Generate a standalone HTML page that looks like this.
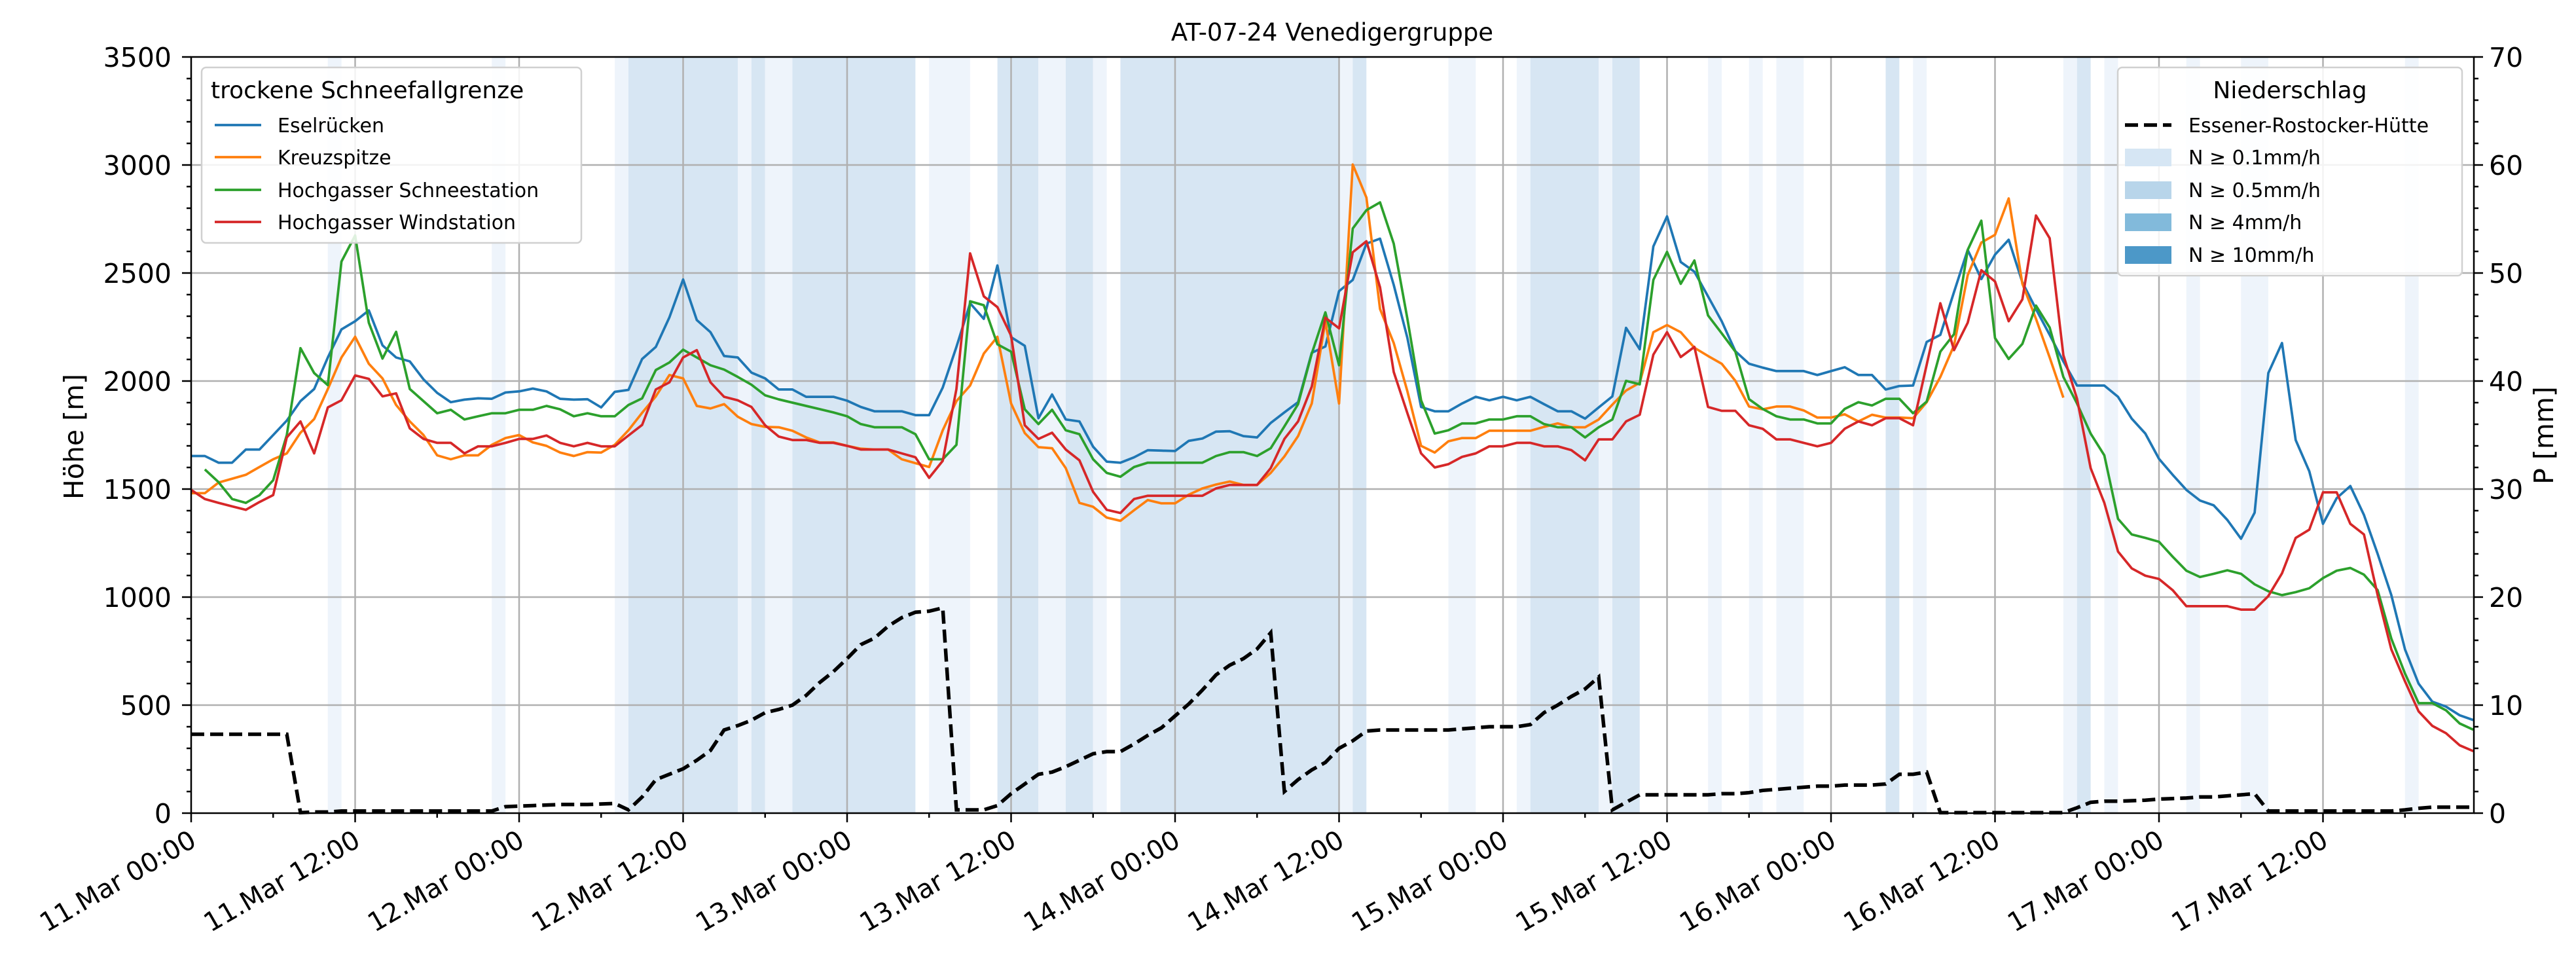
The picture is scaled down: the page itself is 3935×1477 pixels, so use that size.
<!DOCTYPE html>
<html><head><meta charset="utf-8">
<style>
html,body{margin:0;padding:0;background:#fff;}
svg{display:block;font-family:"DejaVu Sans","Liberation Sans",sans-serif;}
</style></head>
<body>
<svg id="chart" width="3935" height="1477" viewBox="0 0 3935 1477" xmlns="http://www.w3.org/2000/svg">
<rect x="0" y="0" width="3935" height="1477" fill="#fff"/>
<g id="bands"></g>
<g id="grid"></g>
<g id="series"></g>
<g id="axes"></g>
<g id="legends"></g>
</svg>
<script>
// ---- data (hourly, hour 0 = 11.Mar 00:00) ----
const eselruecken = [1653,1653,1622,1622,1683,1683,1750,1817,1907,1963,
2109,2239,2277,2327,2165,2109,2091,2008,1945,1902,
1914,1920,1918,1947,1952,1965,1952,1918,1914,1916,
1878,1950,1959,2102,2158,2295,2470,2282,2226,2116,
2109,2039,2012,1961,1961,1927,1927,1927,1909,1880,
1860,1860,1860,1842,1842,1970,2158,2360,2288,2535,
2203,2163,1828,1938,1822,1813,1696,1627,1622,1647,
1680,1678,1676,1723,1734,1766,1768,1745,1739,1806,
1855,1902,2131,2160,2416,2468,2636,2659,2445,2199,
1880,1860,1860,1896,1927,1911,1927,1911,1927,1893,
1860,1860,1826,1878,1929,2246,2147,2623,2762,2551,
2506,2392,2277,2138,2080,2062,2046,2046,2046,2028,
2046,2064,2028,2028,1961,1977,1979,2181,2214,2412,
2607,2472,2585,2654,2457,2333,2214,2091,1979,1979,
1979,1927,1826,1757,1640,1566,1496,1447,1425,1357,
1270,1391,2037,2176,1727,1582,1339,1458,1514,1380,
1200,1009,758,599,516,493,453,431];
const kreuzspitze = [1481,1481,1530,1548,1566,1602,1638,1665,1761,1824,
1963,2109,2205,2080,2012,1889,1813,1750,1656,1638,
1656,1656,1705,1736,1750,1716,1700,1669,1653,1671,
1669,1705,1772,1853,1929,2028,2012,1885,1873,1893,
1835,1801,1788,1786,1770,1739,1716,1716,1700,1687,
1683,1683,1638,1620,1602,1772,1907,1979,2127,2205,
1896,1759,1694,1689,1597,1436,1418,1368,1353,1402,
1449,1434,1434,1474,1503,1521,1535,1519,1519,1575,
1651,1745,1896,2277,1896,3002,2849,2333,2176,1952,
1700,1669,1721,1736,1736,1770,1770,1770,1770,1788,
1804,1786,1786,1822,1891,1956,1992,2226,2259,2226,
2154,2116,2080,2001,1882,1869,1882,1882,1864,1831,
1831,1846,1813,1844,1831,1831,1828,1902,2019,2165,
2490,2641,2677,2845,2450,2288,2109,1923];
const schneestation = [null,1591,1532,1454,1436,1472,1541,1750,2152,2037,
1981,2553,2674,2270,2104,2228,1963,1907,1851,1867,
1822,1837,1851,1851,1867,1867,1885,1869,1837,1851,
1837,1837,1889,1920,2051,2086,2145,2109,2073,2053,
2019,1983,1934,1915,1900,1885,1870,1855,1837,1801,
1786,1786,1786,1754,1638,1638,1705,2369,2351,2170,
2136,1869,1801,1867,1772,1754,1638,1575,1557,1602,
1622,1622,1622,1622,1622,1653,1671,1671,1653,1689,
1790,1893,2127,2318,2073,2706,2791,2827,2636,2288,
1911,1757,1772,1804,1804,1822,1822,1837,1837,1801,
1786,1786,1739,1786,1822,2001,1985,2468,2598,2450,
2558,2304,2221,2136,1916,1871,1837,1822,1822,1804,
1804,1871,1902,1887,1918,1918,1851,1905,2136,2217,
2607,2742,2199,2102,2172,2349,2248,2019,1896,1757,
1656,1362,1290,1274,1256,1187,1122,1093,1108,1124,
1108,1059,1027,1009,1023,1041,1088,1122,1135,1104,
1032,808,646,509,509,476,415,386];
const windstation = [1496,1454,1436,1420,1404,1440,1472,1739,1813,1665,
1878,1911,2026,2010,1929,1943,1781,1732,1714,1714,
1665,1698,1698,1714,1732,1732,1748,1714,1698,1714,
1698,1698,1748,1797,1961,1994,2109,2143,1994,1927,
1911,1880,1795,1743,1727,1727,1714,1714,1700,1683,
1683,1683,1665,1647,1552,1631,1963,2591,2392,2342,
2210,1795,1732,1761,1683,1633,1487,1404,1389,1454,
1469,1469,1469,1469,1469,1503,1519,1519,1519,1597,
1732,1813,1974,2293,2244,2596,2647,2434,2042,1851,
1665,1600,1615,1649,1665,1698,1698,1714,1714,1698,
1698,1680,1633,1730,1730,1813,1844,2122,2226,2111,
2158,1880,1862,1862,1795,1779,1730,1730,1714,1698,
1714,1779,1813,1795,1828,1828,1795,2075,2360,2143,
2270,2513,2461,2277,2378,2766,2661,2120,1918,1597,
1436,1211,1133,1099,1084,1032,958,958,958,958,
942,942,1005,1110,1274,1312,1485,1485,1339,1290,
1009,758,610,471,404,370,314,287];
const precip = [7.3,7.3,7.3,7.3,7.3,7.3,7.3,7.3,0.05,0.1,
0.1,0.2,0.2,0.2,0.2,0.2,0.2,0.2,0.2,0.2,
0.2,0.2,0.2,0.6,0.65,0.7,0.75,0.8,0.8,0.8,
0.85,0.9,0.3,1.5,3.1,3.6,4.1,4.9,5.8,7.7,
8.1,8.6,9.3,9.6,10.0,10.9,12.1,13.1,14.3,15.6,
16.2,17.3,18.1,18.6,18.7,19.0,0.3,0.3,0.3,0.7,
1.8,2.7,3.6,3.8,4.3,4.9,5.5,5.7,5.7,6.4,
7.2,7.9,9.0,10.1,11.4,12.8,13.7,14.3,15.2,16.7,
2.0,3.1,4.0,4.7,6.0,6.7,7.6,7.7,7.7,7.7,
7.7,7.7,7.7,7.8,7.9,8.0,8.0,8.0,8.2,9.3,
10.0,10.8,11.5,12.6,0.3,1.0,1.7,1.7,1.7,1.7,
1.7,1.7,1.8,1.8,1.9,2.1,2.2,2.3,2.4,2.5,
2.5,2.6,2.6,2.6,2.7,3.6,3.6,3.8,0.05,0.05,
0.05,0.05,0.05,0.05,0.05,0.05,0.05,0.05,0.5,1.0,
1.1,1.1,1.15,1.2,1.3,1.35,1.4,1.5,1.5,1.6,
1.7,1.8,0.2,0.2,0.2,0.2,0.2,0.2,0.2,0.2,
0.2,0.2,0.3,0.45,0.55,0.55,0.55,0.55];
const bandStart = [10,22,31,32,40,41,42,44,54,59,62,64,66,68,84,85,92,97,98,103,104,111,114,116,124,126,137,138,140,146,150,162];
const bandEnd   = [11,23,32,40,41,42,44,53,57,62,64,66,67,84,85,86,94,98,103,104,106,112,115,118,125,127,138,139,141,147,152,163];
const bandLevel = [1,1,1,2,1,2,1,2,1,2,1,2,1,2,1,2,1,1,2,1,2,1,1,1,2,1,1,2,1,1,1,1];
const leftTicks = [0,500,1000,1500,2000,2500,3000,3500];
const rightTicks = [0,10,20,30,40,50,60,70];
const xTickHours = [0,12,24,36,48,60,72,84,96,108,120,132,144,156];
const xTickLabels = ["11.Mar 00:00","11.Mar 12:00","12.Mar 00:00","12.Mar 12:00","13.Mar 00:00","13.Mar 12:00","14.Mar 00:00","14.Mar 12:00","15.Mar 00:00","15.Mar 12:00","16.Mar 00:00","16.Mar 12:00","17.Mar 00:00","17.Mar 12:00"];

// ---- axes geometry ----
const L=292, R=3779, T=87, B=1242;
const HMAX = (R-L)/(250.5/12);
const X = h => L + h*(R-L)/HMAX;
const YM = v => B - v*(B-T)/3500;
const YP = p => B - p*(B-T)/70;
const NS="http://www.w3.org/2000/svg";
function mk(tag, parent, attrs){const e=document.createElementNS(NS,tag);for(const k in attrs)e.setAttribute(k,attrs[k]);parent.appendChild(e);return e;}

const gB=document.getElementById('bands'), gG=document.getElementById('grid'), gS=document.getElementById('series'), gA=document.getElementById('axes'), gL=document.getElementById('legends');
const bandColor={1:"#eef4fb",2:"#d7e6f3"};
bandStart.forEach((s,i)=>{
  const r=mk('rect',gB,{x:X(s),y:T,width:X(bandEnd[i])-X(s),height:B-T,fill:bandColor[bandLevel[i]]});
  
  
});
// grid
xTickHours.forEach(h=>{ if(h>0){const l=mk('line',gG,{x1:X(h),x2:X(h),y1:T,y2:B,stroke:"#b0b0b0","stroke-width":2.5});
   }});
leftTicks.forEach(v=>{ if(v>0&&v<3500){const l=mk('line',gG,{x1:L,x2:R,y1:YM(v),y2:YM(v),stroke:"#b0b0b0","stroke-width":2.5});
   }});
// series
function path(arr, yf){let d="",pen=false;arr.forEach((v,h)=>{if(v==null){pen=false;return;}d+=(pen?"L":"M")+X(h).toFixed(1)+","+yf(v).toFixed(1);pen=true;});return d;}
const seriesDefs=[[eselruecken,"#1f77b4","eselruecken-line"],[kreuzspitze,"#ff7f0e","kreuzspitze-line"],[schneestation,"#2ca02c","schneestation-line"],[windstation,"#d62728","windstation-line"]];
seriesDefs.forEach(s=>{const p=mk('path',gS,{d:path(s[0],YM),fill:"none",stroke:s[1],"stroke-width":3.75,"stroke-linejoin":"round"});
   });
const pp=mk('path',gS,{d:path(precip,YP),fill:"none",stroke:"#000","stroke-width":5.5,"stroke-dasharray":"20 9"});
 
// spines
const fr=mk('rect',gA,{x:L,y:T,width:R-L,height:B-T,fill:"none",stroke:"#000","stroke-width":2.5});
 
// y ticks
for(let v=0;v<=3500;v+=100){const maj=v%500===0;const y=YM(v);
  mk('line',gA,{x1:L-(maj?14:7),x2:L,y1:y,y2:y,stroke:"#000","stroke-width":2.5});
  mk('line',gA,{x1:R,x2:R+(maj?14:7),y1:y,y2:y,stroke:"#000","stroke-width":2.5});}
leftTicks.forEach(v=>{const t=mk('text',gA,{x:262,y:YM(v)+15,"text-anchor":"end","font-size":41});t.textContent=v;
   });
rightTicks.forEach(v=>{const t=mk('text',gA,{x:3802,y:YP(v)+15,"text-anchor":"start","font-size":41});t.textContent=v;
   });
// x ticks
for(let h=0;h<=HMAX;h+=6){const maj=h%12===0;mk('line',gA,{x1:X(h),x2:X(h),y1:B,y2:B+(maj?14:7),stroke:"#000","stroke-width":2.5});}
xTickHours.forEach((h,i)=>{const x=X(h)-4,y=1266;const t=mk('text',gA,{x:x,y:y,"text-anchor":"end","dominant-baseline":"hanging","font-size":40,transform:`rotate(-30 ${x} ${y})`});
  t.textContent=xTickLabels[i];  });
// labels
let t=mk('text',gA,{x:113,y:667,"text-anchor":"middle","dominant-baseline":"central","font-size":41,transform:"rotate(-90 113 667)"});t.textContent="Höhe [m]";
 
t=mk('text',gA,{x:3886,y:665,"text-anchor":"middle","dominant-baseline":"central","font-size":41,transform:"rotate(-90 3886 665)"});t.textContent="P [mm]";
 
t=mk('text',gA,{x:2035,y:62,"text-anchor":"middle","font-size":37});t.textContent="AT-07-24 Venedigergruppe";
 
// legends
function box(x,y,w,h,name){const r=mk('rect',gL,{x:x,y:y,width:w,height:h,rx:7,fill:"#fff","fill-opacity":0.85,stroke:"#d0d0d0","stroke-width":2.5});
   }
box(308,103,580,268,'legend-schneefallgrenze');
t=mk('text',gL,{x:322,y:150,"font-size":36});t.textContent="trockene Schneefallgrenze";
 
const legNames=["Eselrücken","Kreuzspitze","Hochgasser Schneestation","Hochgasser Windstation"];
const legColors=["#1f77b4","#ff7f0e","#2ca02c","#d62728"];
const legRows=[191,240,290,339];
legNames.forEach((n,i)=>{mk('line',gL,{x1:328,x2:399,y1:legRows[i],y2:legRows[i],stroke:legColors[i],"stroke-width":3.75});
  const tt=mk('text',gL,{x:424,y:legRows[i]+11,"font-size":30});tt.textContent=n;
   });
box(3235,103,526,318,'legend-niederschlag');
t=mk('text',gL,{x:3498,y:150,"font-size":36,"text-anchor":"middle"});t.textContent="Niederschlag";
 
mk('line',gL,{x1:3246,x2:3317,y1:191,y2:191,stroke:"#000","stroke-width":5.5,"stroke-dasharray":"20 9"});
t=mk('text',gL,{x:3343,y:202,"font-size":30});t.textContent="Essener-Rostocker-Hütte";
 
const patchLabels=["N ≥ 0.1mm/h","N ≥ 0.5mm/h","N ≥ 4mm/h","N ≥ 10mm/h"];
const patchColors=["#d6e6f4","#b8d5ea","#82badb","#4c98c8"];
const patchRows=[240,290,339,389];
patchLabels.forEach((n,i)=>{mk('rect',gL,{x:3246,y:patchRows[i]-13,width:71,height:27,fill:patchColors[i]});
  const tt=mk('text',gL,{x:3343,y:patchRows[i]+11,"font-size":30});tt.textContent=n;
   });
</script>
</body></html>
